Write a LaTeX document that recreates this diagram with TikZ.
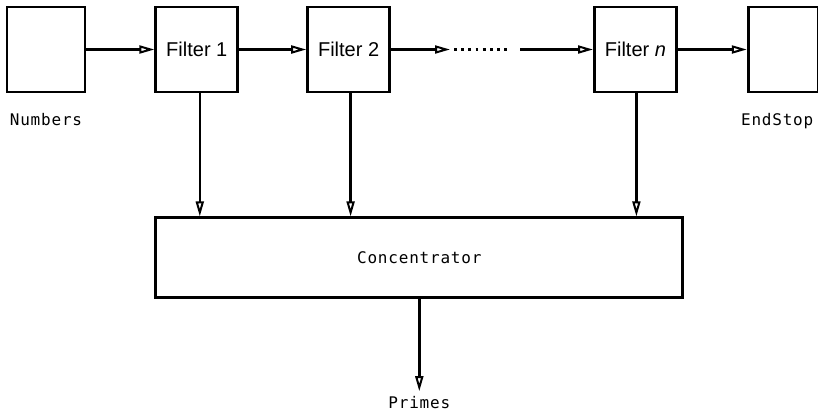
\documentclass[tikz,border=0pt]{standalone}
\usepackage{fontspec}
\setmainfont{Liberation Sans}
\newfontfamily\tagfont[LetterSpace=5]{DejaVu Sans Mono}
\usetikzlibrary{positioning,arrows.meta}

\begin{document}
\begin{tikzpicture}[
  x=1pt, y=-1pt,
  node distance=68pt,
  box/.style={draw, line width=2.8pt, minimum width=82pt, minimum height=85pt, inner sep=0pt, font=\fontsize{20}{23}\selectfont},
  wide/.style={draw, line width=2.8pt, minimum width=527pt, minimum height=80pt, inner sep=0pt, font=\fontsize{16}{18}\tagfont},
  tag/.style={inner sep=0pt, font=\fontsize{16}{18}\tagfont},
  flow/.style={line width=2.6pt, -{Triangle[open, length=15pt, width=8pt, line width=2pt]}}
]
\useasboundingbox (0,0) rectangle (818,413);

\node[box, minimum width=78pt] (numbers) at (46,49.5) {};
\node[box] (filter1) [right=of numbers] {Filter 1};
\node[box] (filter2) [right=67pt of filter1] {Filter 2};
\node[box] (filtern) [right=202pt of filter2] {Filter \textit{n}};
\node[box, minimum width=70pt] (endstop) [right=69pt of filtern] {};
\node[wide, anchor=north west] (conc) at ([yshift=-123pt]filter1.south west) {Concentrator};

\coordinate (dotsL) at (450,49.5);
\coordinate (dotsR) at (520,49.5);
\coordinate (out) at ([yshift=-92pt]conc.south);

\draw[flow] (numbers) -- (filter1);
\draw[flow] (filter1) -- (filter2);
\draw[flow] (filter2) -- (dotsL);
\draw[line width=2.8pt, dash pattern=on 2.8pt off 4.4pt] ([xshift=4pt]dotsL) -- ([xshift=-9pt]dotsR);
\draw[flow] (dotsR) -- (filtern);
\draw[flow] (filtern) -- (endstop);

\draw[flow] ([xshift=3pt]filter1.south) -- ([xshift=3pt]filter1.south |- conc.north);
\draw[flow] ([xshift=2pt]filter2.south) -- ([xshift=2pt]filter2.south |- conc.north);
\draw[flow] ([xshift=1pt]filtern.south) -- ([xshift=1pt]filtern.south |- conc.north);
\draw[flow] (conc) -- (out);

\node[tag] at (numbers.south) [below=20pt] {Numbers};
\node[tag] at ([xshift=-6pt]endstop.south) [below=20pt] {EndStop};
\node[tag] at (out) [below=5pt] {Primes};
\end{tikzpicture}
\end{document}
